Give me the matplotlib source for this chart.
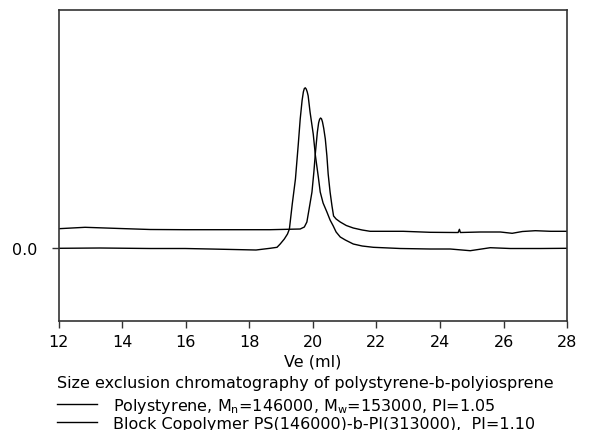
"""Size exclusion chromatogram: polystyrene precursor vs. PS-b-PI block copolymer."""

import matplotlib
matplotlib.use("Agg")
import matplotlib.pyplot as plt

plt.rcParams["font.family"] = ["DejaVu Sans"]
plt.rcParams["mathtext.fontset"] = "dejavusans"

# Trace with the baseline at 0 and the taller, earlier peak (~19.76 ml).
trace_a_ve = [12.0, 13.30, 14.88, 15.98, 16.77, 18.21, 18.65, 18.87, 18.97, 19.10,
              19.20, 19.26, 19.35, 19.45, 19.54, 19.60, 19.66, 19.70, 19.73, 19.76,
              19.79, 19.82, 19.85, 19.91, 20.01, 20.08, 20.17, 20.23, 20.32, 20.44,
              20.54, 20.64, 20.73, 20.86, 21.02, 21.27, 21.55, 21.90, 22.75, 23.69,
              24.32, 24.95, 25.58, 26.21, 27.16, 28.0]
trace_a_sig = [0.0, 0.003, -0.002, -0.002, -0.007, -0.017, 0.0, 0.01, 0.043, 0.093,
               0.143, 0.193, 0.443, 0.693, 1.043, 1.293, 1.480, 1.565, 1.598, 1.605,
               1.592, 1.565, 1.525, 1.363, 1.143, 0.923, 0.713, 0.563, 0.453, 0.363,
               0.283, 0.223, 0.163, 0.113, 0.083, 0.043, 0.023, 0.01, -0.002, -0.007,
               -0.007, -0.024, 0.006, -0.002, -0.002, 0.0]

# Trace with the raised baseline and the lower, later peak (~20.23 ml).
trace_b_ve = [12.0, 12.83, 13.93, 14.88, 15.98, 17.40, 18.65, 19.60, 19.73, 19.81,
              19.88, 19.97, 20.03, 20.08, 20.14, 20.18, 20.21, 20.24, 20.27, 20.30,
              20.34, 20.39, 20.44, 20.48, 20.54, 20.60, 20.65, 20.73, 20.86, 21.05,
              21.27, 21.55, 21.80, 22.84, 23.69, 24.48, 24.57, 24.61, 24.64, 25.27,
              25.90, 26.27, 26.59, 27.00, 27.48, 28.0]
trace_b_sig = [0.196, 0.21, 0.198, 0.188, 0.186, 0.186, 0.186, 0.193, 0.213, 0.263,
               0.393, 0.563, 0.763, 0.963, 1.163, 1.255, 1.290, 1.303, 1.295, 1.265,
               1.200, 1.093, 0.923, 0.743, 0.563, 0.423, 0.323, 0.293, 0.263, 0.228,
               0.203, 0.183, 0.17, 0.17, 0.16, 0.158, 0.158, 0.19, 0.158, 0.163,
               0.163, 0.15, 0.168, 0.176, 0.17, 0.17]

x_ticks = [12, 14, 16, 18, 20, 22, 24, 26, 28]
x_label = "Ve (ml)"
legend_title = "Size exclusion chromatography of polystyrene-b-polyiosprene"
label_a = r"Polystyrene, M$_\mathregular{n}$=146000, M$_\mathregular{w}$=153000, PI=1.05"
label_b = "Block Copolymer PS(146000)-b-PI(313000),  PI=1.10"

FS = 11.5
SPINE = "#333333"

fig = plt.figure(figsize=(5.97, 4.31), dpi=100)
ax = fig.add_axes([0.0983, 0.2529, 0.8517, 0.7227])

line_a, = ax.plot(trace_a_ve, trace_a_sig, color="black", lw=1.0)
line_b, = ax.plot(trace_b_ve, trace_b_sig, color="black", lw=1.0)

ax.set_xlim(12, 28)
ax.set_ylim(-0.727, 2.388)
ax.set_xticks(x_ticks)
ax.set_xticklabels([str(t) for t in x_ticks], fontsize=FS)
ax.set_yticks([0.0])
ax.set_yticklabels(["0.0"], fontsize=FS)
ax.tick_params(direction="out", length=5, width=1.0, color=SPINE)
ax.tick_params(axis="x", pad=4.5)
ax.tick_params(axis="y", pad=10)
for spine in ax.spines.values():
    spine.set_color(SPINE)
    spine.set_linewidth(1.2)

ax.set_xlabel(x_label, fontsize=FS, labelpad=3)

leg = ax.legend([line_a, line_b], [label_a, label_b], title=legend_title,
                loc="upper left", bbox_to_anchor=(-0.003, -0.174), frameon=False,
                fontsize=FS, title_fontsize=FS, alignment="left",
                handlelength=2.5, handletextpad=1.0, borderpad=0,
                borderaxespad=0, labelspacing=0.08)
leg._legend_box.sep = 4

fig.savefig("out.png", dpi=100)
plt.close(fig)
